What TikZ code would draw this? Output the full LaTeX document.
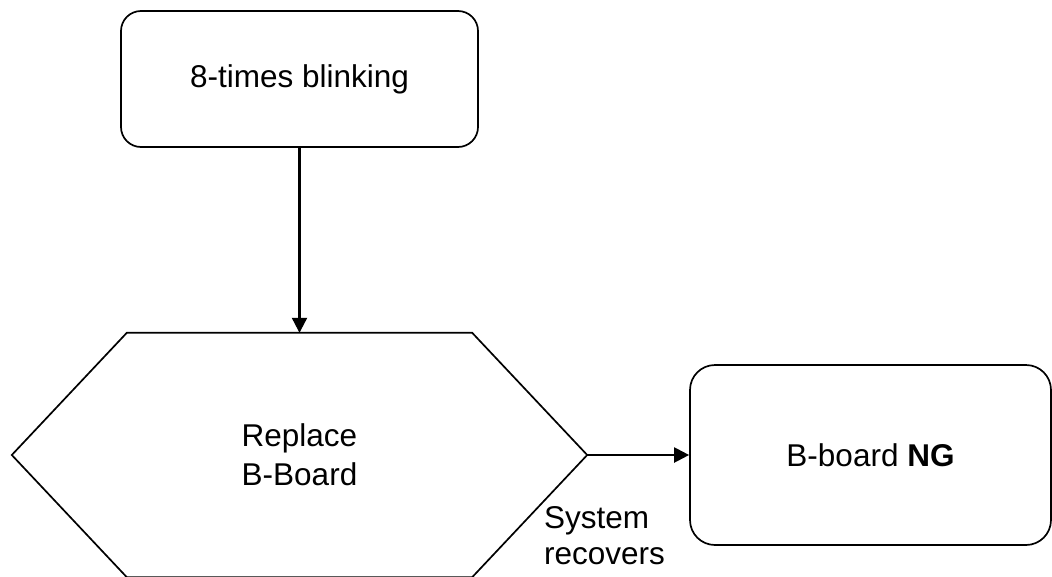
\documentclass[tikz,border=0pt]{standalone}
\usepackage{fontspec}
\setmainfont{Liberation Sans}
\usetikzlibrary{arrows.meta,calc}
\begin{document}
\begin{tikzpicture}[x=1pt,y=-1pt,
  box/.style={draw,line width=1.7pt,rounded corners=20pt,align=center,font=\fontsize{31.5}{38}\selectfont,inner sep=0pt},
  hexbox/.style={inner sep=0pt,align=center,font=\fontsize{31.5}{39}\selectfont},
  lbl/.style={inner sep=0pt,align=left,anchor=north west,font=\fontsize{31.5}{36}\selectfont},
  conn/.style={line width=2.2pt,-{Triangle[length=15pt,width=15pt]}}]
\clip (0,0) rectangle (1052,576);
\node[box,minimum width=357pt,minimum height=136pt] (top) at (299.5,79) {8-times blinking};
\node[hexbox,minimum width=575pt,minimum height=244pt] (hex) at (299.5,455) {Replace\\B-Board};
\draw[line width=1.7pt] (hex.west) -- ($(hex.north west)+(115,0)$) -- ($(hex.north east)+(-115,0)$) -- (hex.east) -- ($(hex.south east)+(-115,0)$) -- ($(hex.south west)+(115,0)$) -- cycle;
\node[box,rounded corners=25pt,minimum width=361pt,minimum height=180pt] (ng) at (870.5,455) {B-board \textbf{NG}};
\node[lbl] (rec) at (544,506) {System\\recovers};
\draw[conn] (top.south) -- (hex.north);
\draw[conn] (hex.east) -- (ng.west);
\end{tikzpicture}
\end{document}
